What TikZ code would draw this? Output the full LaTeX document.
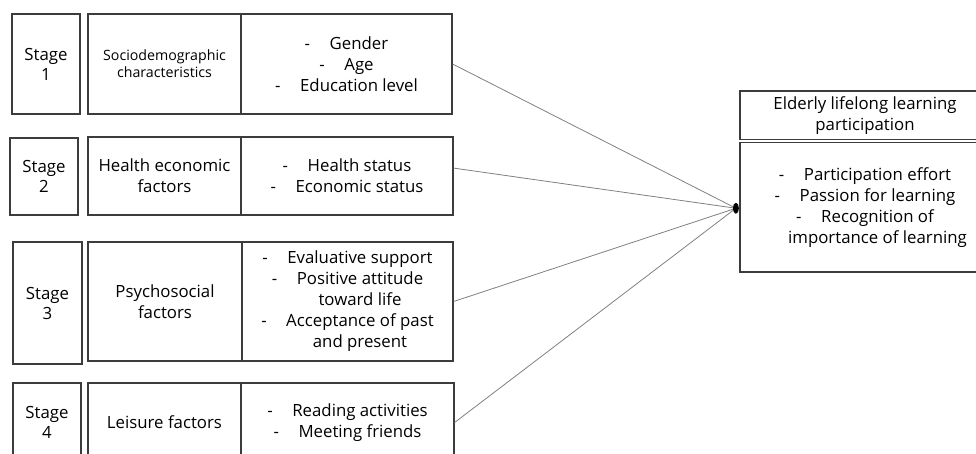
\documentclass[tikz,border=0pt]{standalone}
\usepackage{fontspec}
\setmainfont{Open Sans}
\usetikzlibrary{calc}
\definecolor{boxc}{HTML}{3C3C3C}
\definecolor{linkc}{HTML}{808080}
% list item with a leading dash, and a continuation line of such an item
\newcommand{\itm}[1]{\makebox[25pt][l]{-}#1}
\newcommand{\itmc}[1]{\makebox[25pt]{}#1}
\begin{document}
\begin{tikzpicture}[x=1pt,y=-1pt,
  cellbox/.style={draw=boxc, line width=1.2pt, inner sep=0pt, align=center,
    font=\fontsize{16.8}{21}\selectfont, text=black},
  stagebox/.style={cellbox, font=\fontsize{16.8}{20}\selectfont},
  smallbox/.style={cellbox, font=\fontsize{14.2}{17}\selectfont},
  link/.style={draw=linkc, line width=0.8pt}]
\useasboundingbox (0,0) rectangle (976,453);
\clip (0,0) rectangle (976,453);

% stage 1
\node[stagebox, minimum width=68pt, minimum height=100pt] (s1) at (46,64) {Stage\\1};
\node[smallbox, minimum width=153pt, minimum height=100pt] (c1a) at (164.5,64) {Sociodemographic\\characteristics};
\node[cellbox, minimum width=211pt, minimum height=100pt] (c1b) at (346.5,64) {\itm{Gender}\\\itm{Age}\\\itm{Education level}};

% stage 2
\node[stagebox, minimum width=68pt, minimum height=77pt] (s2) at (44,176.5) {Stage\\2};
\node[cellbox, minimum width=153pt, minimum height=78pt] (c2a) at (164.5,176) {Health economic\\factors};
\node[cellbox, minimum width=212pt, minimum height=78pt] (c2b) at (347,176) {\itm{Health status}\\\itm{Economic status}};

% stage 3
\node[stagebox, minimum width=69pt, minimum height=122pt] (s3) at (47.5,303) {Stage\\3};
\node[cellbox, minimum width=154pt, minimum height=119pt] (c3a) at (165,301.5) {Psychosocial\\factors};
\node[cellbox, minimum width=211pt, minimum height=119pt] (c3b) at (347.5,301.5)
  {\itm{Evaluative support}\\\itm{Positive attitude}\\\itmc{toward life}\\\itm{Acceptance of past}\\\itmc{and present}};

% stage 4
\node[stagebox, minimum width=68pt, minimum height=79pt] (s4) at (47,422.5) {Stage\\4};
\node[cellbox, minimum width=153pt, minimum height=79pt] (c4a) at (164.5,422.5) {Leisure factors};
\node[cellbox, minimum width=213pt, minimum height=79pt] (c4b) at (347.5,422.5) {\itm{Reading activities}\\\itm{Meeting friends}};

% outcome
\node[cellbox, minimum width=250pt, minimum height=48.5pt] (t) at (865,115.25) {Elderly lifelong learning\\participation};
\node[cellbox, minimum width=250pt, minimum height=129.5pt] (r) at (865,207.25)
  {\itm{Participation effort}\\\itm{Passion for learning}\\\itm{Recognition of}\\\itmc{importance of learning}};

% converging links
\coordinate (j) at ($(r.west)+(-3.5,1)$);
\draw[link] (c1b.east) -- (j);
\draw[link] ($(c2b.north east)!0.4!(c2b.south east)$) -- (j);
\draw[link] (c3b.east) -- (j);
\draw[link] (c4b.east) -- (j);
\fill[black] (j) ellipse [x radius=3pt, y radius=5.5pt];
\end{tikzpicture}
\end{document}
